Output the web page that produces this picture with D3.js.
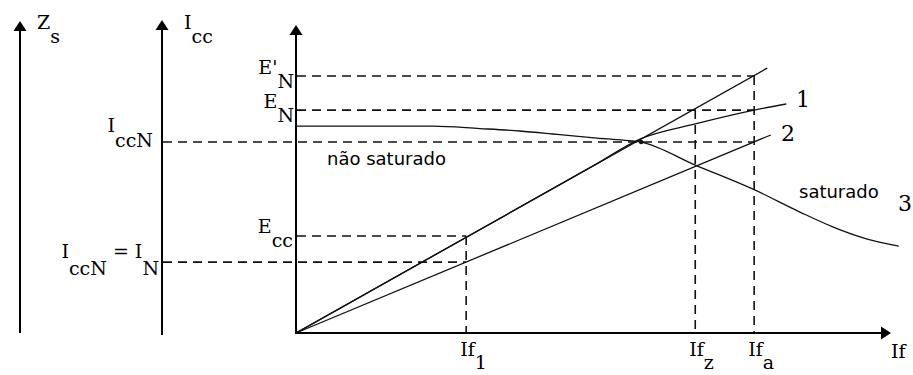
<!DOCTYPE html>
<html>
<head>
<meta charset="utf-8">
<script src="https://cdn.jsdelivr.net/npm/d3@7"></script>
<style>
  html, body { margin: 0; padding: 0; background: #fff; }
  svg { display: block; }
  .lbl { font-family: "DejaVu Serif", serif; font-size: 19px; fill: #000; }
  .num { font-family: "DejaVu Serif", serif; font-size: 22px; fill: #000; }
  .note { font-family: "DejaVu Sans", sans-serif; font-size: 18px; fill: #000; }
</style>
</head>
<body>
<svg id="chart" width="913" height="375"></svg>
<script>
// Field-current marks on the If axis (arbitrary units)
const ifSubs = ["1", "z", "a"];
const ifValues = [28.6, 67.1, 77.0];

// Levels read on the vertical axes
const levelNames = ["E'N", "EN", "IccN", "Ecc", "IN"];
const levelValues = [83.7, 72.6, 62.2, 31.6, 23.1];

// Air-gap line through E'N
const airGapX = [0, 79.2];
const airGapY = [0, 86.3];

// Curve 1: open-circuit characteristic (saturated)
const curve1X = [0, 50.0, 58.0, 67.1, 77.0, 82.4];
const curve1Y = [0, 54.5, 63.3, 68.1, 72.6, 74.6];

// Line 2: short-circuit current
const line2X = [0, 79.8];
const line2Y = [0, 64.5];

// Curve 3: synchronous impedance Zs
const zsX = [0, 23.0, 30.9, 37.6, 43.9, 50.6, 55.0, 58.0, 67.1, 77.1, 84.7, 90.3, 96.0, 101.3];
const zsY = [67.4, 67.4, 66.6, 65.8, 64.7, 63.5, 62.8, 62.2, 54.7, 46.6, 39.4, 34.5, 30.6, 28.3];

const W = 913, H = 375;
const svg = d3.select("#chart");
svg.append("rect").attr("width", W).attr("height", H).attr("fill", "#fff");

const x = d3.scaleLinear().domain([0, 100]).range([296, 891]);
const y = d3.scaleLinear().domain([0, 100]).range([333, 26]);

const lvl = Object.fromEntries(levelNames.map((n, i) => [n, levelValues[i]]));
const ifv = Object.fromEntries(ifSubs.map((n, i) => [n, ifValues[i]]));

// Left-hand auxiliary axes (Zs and Icc), in pixels
const zsAxisPx = 20, iccAxisPx = 162;

const ink = "#111";
const dash = "9,6";

// ---------- axes ----------
const axes = svg.append("g");
function arrow(g, tipX, tipY, dir) {
  const L = 10, hw = 6.5;
  let p;
  if (dir === "up") p = [[tipX, tipY], [tipX - hw, tipY + L], [tipX + hw, tipY + L]];
  else p = [[tipX, tipY], [tipX - L, tipY - hw], [tipX - L, tipY + hw]];
  g.append("path").attr("d", "M" + p.map(d => d.join(",")).join("L") + "Z").attr("fill", "#000");
}
function vAxis(px, bottom, top) {
  axes.append("line").attr("x1", px).attr("x2", px).attr("y1", bottom).attr("y2", top + 4)
    .attr("stroke", "#000").attr("stroke-width", 2);
  arrow(axes, px, top, "up");
}
vAxis(zsAxisPx, 333, 21);
vAxis(iccAxisPx, 335, 20);
vAxis(x(0), y(0) + 1, y(100) - 1);
axes.append("line").attr("x1", x(0)).attr("x2", x(100) - 4).attr("y1", y(0)).attr("y2", y(0))
  .attr("stroke", "#000").attr("stroke-width", 2);
arrow(axes, x(100), y(0), "right");

// ---------- dashed guides ----------
const guides = svg.append("g").attr("stroke", ink).attr("stroke-width", 1.6)
  .attr("stroke-dasharray", dash).attr("fill", "none");
const hGuides = [
  [x(0) + 1, x(ifv.a), lvl["E'N"]],
  [x(0) + 1, x(ifv.a), lvl["EN"]],
  [iccAxisPx + 1, x(ifv.a), lvl["IccN"]],
  [x(0) + 1, x(ifv["1"]), lvl["Ecc"]],
  [iccAxisPx + 1, x(ifv["1"]), lvl["IN"]]
];
hGuides.forEach(([a, b, v]) => guides.append("line")
  .attr("x1", a).attr("x2", b).attr("y1", y(v)).attr("y2", y(v)));
const vGuides = [
  [ifv["1"], lvl["Ecc"]],
  [ifv.z, lvl["EN"]],
  [ifv.a, lvl["E'N"]]
];
vGuides.forEach(([u, top]) => guides.append("line")
  .attr("x1", x(u)).attr("x2", x(u)).attr("y1", y(top)).attr("y2", y(0) - 1));

// ---------- characteristic curves ----------
const curves = svg.append("g").attr("fill", "none").attr("stroke", ink).attr("stroke-width", 1.3);
const lineGen = d3.line().x(d => x(d[0])).y(d => y(d[1]));
const smoothGen = d3.line().x(d => x(d[0])).y(d => y(d[1])).curve(d3.curveMonotoneX);
const zip = (a, b) => a.map((v, i) => [v, b[i]]);
curves.append("path").attr("d", lineGen(zip(airGapX, airGapY)));
curves.append("path").attr("d", smoothGen(zip(curve1X, curve1Y)));
curves.append("path").attr("d", lineGen(zip(line2X, line2Y)));
curves.append("path").attr("d", smoothGen(zip(zsX, zsY)));
svg.append("circle").attr("cx", x(zsX[7])).attr("cy", y(zsY[7])).attr("r", 2.2).attr("fill", ink);

// ---------- labels ----------
function rich(parts, px, py, anchor, subDy, cls) {
  const t = svg.append("text").attr("class", cls || "lbl").attr("x", px).attr("y", py)
    .attr("text-anchor", anchor || "start");
  let low = false;
  parts.forEach(([s, sub]) => {
    const sp = t.append("tspan").text(s);
    if (sub && !low) { sp.attr("dy", subDy); low = true; }
    else if (!sub && low) { sp.attr("dy", -subDy); low = false; }
  });
  return t;
}

// axis titles
rich([["Z", false], ["s", true]], 37, 29, "start", 14);
rich([["I", false], ["cc", true]], 184, 29, "start", 14);
svg.append("text").attr("class", "lbl").attr("x", 891).attr("y", 358).text("If");

// level labels
rich([["E'", false], ["N", true]], x(0) - 2, y(lvl["E'N"]) - 2, "end", 13.5);
rich([["E", false], ["N", true]], x(0) - 2, y(lvl["EN"]) - 2, "end", 13.5);
rich([["E", false], ["cc", true]], x(0) - 3, y(lvl["Ecc"]) - 3, "end", 14);
rich([["I", false], ["ccN", true]], iccAxisPx - 9, y(lvl["IccN"]) - 10, "end", 15);
rich([["I", false], ["ccN", true], [" = I", false], ["N", true]], iccAxisPx - 3, y(lvl["IN"]) - 4, "end", 16.5);

// field-current marks
ifSubs.forEach((s, i) => rich([["If", false], [s, true]], x(ifValues[i]) - 6, 356, "start", 13));

// curve numbers
svg.append("text").attr("class", "num").attr("x", 796).attr("y", 107).text("1");
svg.append("text").attr("class", "num").attr("x", 781).attr("y", 141).text("2");
svg.append("text").attr("class", "num").attr("x", 898).attr("y", 211).text("3");

// region notes
svg.append("text").attr("class", "note").attr("x", 327).attr("y", 165).text("não saturado");
svg.append("text").attr("class", "note").attr("x", 799).attr("y", 198).text("saturado");
</script>
</body>
</html>
